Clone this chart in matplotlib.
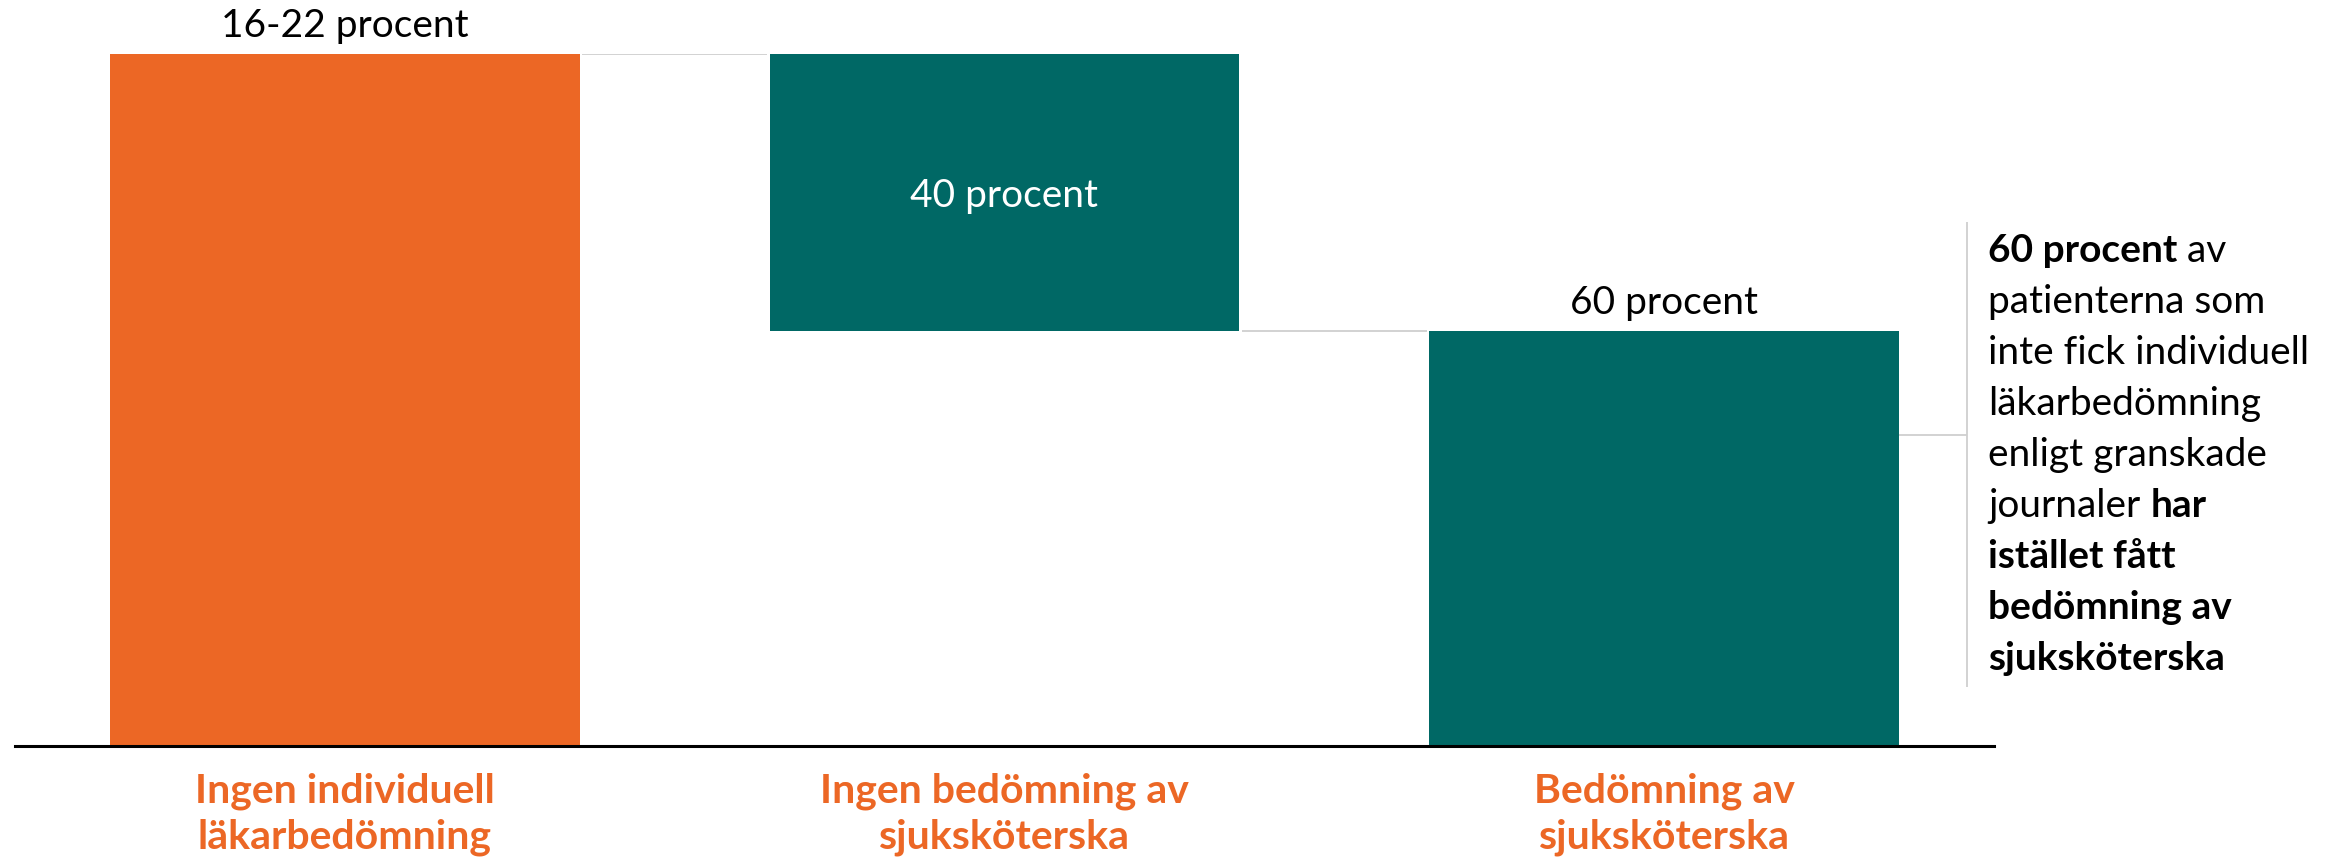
import matplotlib
matplotlib.use("Agg")
import matplotlib.pyplot as plt

plt.rcParams['font.family'] = ['Lato', 'DejaVu Sans']

# ---- data ----
categories = ["Ingen individuell\nläkarbedömning",
              "Ingen bedömning av\nsjuksköterska",
              "Bedömning av\nsjuksköterska"]
bar_bottoms = [0, 60, 0]
bar_heights = [100, 40, 60]
value_labels = ["16-22 procent", "40 procent", "60 procent"]
label_inside = [False, True, False]

note_lines = [
    [("60 procent", "bold"), (" av", "normal")],
    [("patienterna som", "normal")],
    [("inte fick individuell", "normal")],
    [("läkarbedömning", "normal")],
    [("enligt granskade", "normal")],
    [("journaler ", "normal"), ("har", "bold")],
    [("istället fått", "bold")],
    [("bedömning av", "bold")],
    [("sjuksköterska", "bold")],
]

ORANGE = "#EC6725"
TEAL = "#006865"
GREY = "#cfcfcf"
bar_colors = [ORANGE, TEAL, TEAL]

W, H = 2346, 861
fig = plt.figure(figsize=(W / 100, H / 100), dpi=100)
ax = fig.add_axes([15 / W, (H - 746) / H, (1994 - 15) / W, (746 - 54) / H])

x = list(range(len(categories)))
bw = 0.712
ax.bar(x, bar_heights, bottom=bar_bottoms, width=bw, color=bar_colors,
       edgecolor='none', zorder=2)

ax.set_xlim(-0.5, 2.5)
ax.set_ylim(0, 100)

# connectors
for i in range(len(x) - 1):
    level = bar_bottoms[i] + bar_heights[i] if i == 0 else bar_bottoms[i]
    ax.plot([x[i] + bw / 2 + 0.004, x[i + 1] - bw / 2 - 0.004], [level, level],
            color=GREY, lw=1.3, zorder=1, solid_capstyle='butt')

# value labels
for i, (lab, inside) in enumerate(zip(value_labels, label_inside)):
    top = bar_bottoms[i] + bar_heights[i]
    if inside:
        ax.annotate(lab, xy=(x[i], bar_bottoms[i] + bar_heights[i] / 2),
                    xytext=(0, -15), textcoords='offset pixels',
                    ha='center', va='baseline', color='white', fontsize=28)
    else:
        ax.annotate(lab, xy=(x[i], top), xytext=(0, 17), textcoords='offset pixels',
                    ha='center', va='baseline', color='black', fontsize=28)

# axes styling
for s in ['top', 'right', 'left']:
    ax.spines[s].set_visible(False)
ax.spines['bottom'].set_linewidth(2.2)
ax.spines['bottom'].set_color('black')
ax.set_yticks([])
ax.set_xticks(x)
ax.set_xticklabels(categories, fontsize=29.5, fontweight='bold', color=ORANGE,
                   linespacing=1.3)
ax.tick_params(axis='x', length=0, pad=19)

# bracket
bx = 2.459
ax.plot([x[2] + bw / 2, bx], [45, 45], color=GREY, lw=1.3, clip_on=False,
        solid_capstyle='butt')
ax.plot([bx, bx], [75.7, 8.5], color=GREY, lw=1.3, clip_on=False,
        solid_capstyle='butt')

# note text
fig.canvas.draw()
r = fig.canvas.get_renderer()
x0 = 1988
base0 = 262
step = 51.05
for li, parts in enumerate(note_lines):
    xp = x0
    yp = H - (base0 + li * step)
    for txt, wt in parts:
        t = fig.text(xp / W, yp / H, txt, fontsize=28, fontweight=wt,
                     color='black', ha='left', va='baseline')
        bb = t.get_window_extent(r)
        xp = bb.x1

fig.savefig("out.png", dpi=100, facecolor='white')
